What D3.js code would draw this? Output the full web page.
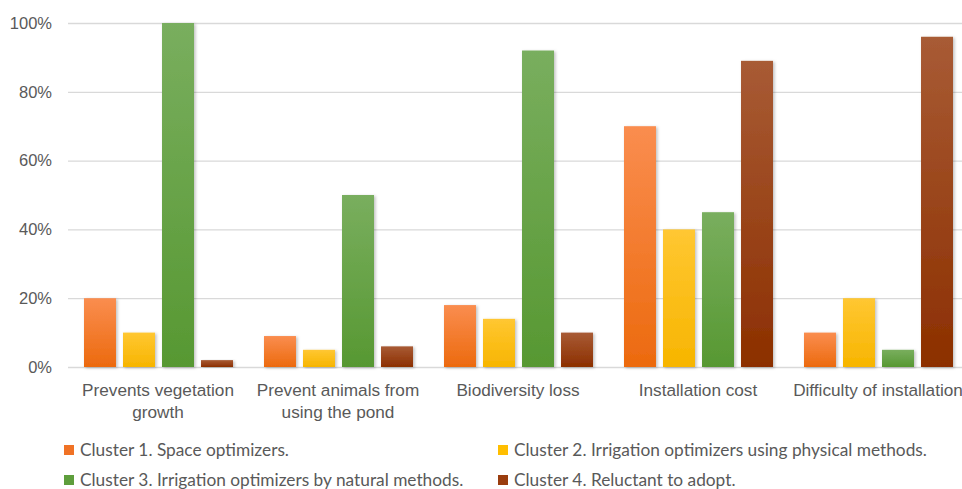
<!DOCTYPE html>
<html>
<head>
<meta charset="utf-8">
<script src="https://cdn.jsdelivr.net/npm/d3@7"></script>
<style>
  html, body { margin: 0; padding: 0; background: #fff; }
  svg { display: block; font-family: Lato, "Open Sans", sans-serif; }
</style>
</head>
<body>
<svg id="chart" width="962" height="489"></svg>
<script>
// Share of respondents (%) per reason, by cluster
const categories = [
  ["Prevents vegetation", "growth"],
  ["Prevent animals from", "using the pond"],
  ["Biodiversity loss"],
  ["Installation cost"],
  ["Difficulty of installation"]
];
const seriesNames = [
  "Cluster 1. Space optimizers.",
  "Cluster 2. Irrigation optimizers using physical methods.",
  "Cluster 3. Irrigation optimizers by natural methods.",
  "Cluster 4. Reluctant to adopt."
];
const cluster1 = [20, 9, 18, 70, 10];
const cluster2 = [10, 5, 14, 40, 20];
const cluster3 = [100, 50, 92, 45, 5];
const cluster4 = [2, 6, 10, 89, 96];
const yTicks = [0, 20, 40, 60, 80, 100];

const seriesValues = [cluster1, cluster2, cluster3, cluster4];
const colors = [
  { top: "#FA8D4F", bottom: "#EC6A0E", swatch: "#F07225" },
  { top: "#FFC732", bottom: "#F7B500", swatch: "#FFBE00" },
  { top: "#79AE5E", bottom: "#579832", swatch: "#5E9E3C" },
  { top: "#A85B35", bottom: "#8C2F00", swatch: "#9A3D0E" }
];

const svg = d3.select("#chart");
const margin = { left: 68, top: 23, bottom: 367 };
const plotRight = 968;

const x0 = d3.scaleBand()
  .domain(d3.range(categories.length))
  .range([margin.left, plotRight])
  .paddingInner(0)
  .paddingOuter(0);
const x1 = d3.scaleBand()
  .domain(d3.range(seriesValues.length))
  .range([16, x0.bandwidth() - 15])
  .paddingInner(0.18)
  .paddingOuter(0);
const y = d3.scaleLinear().domain([0, 100]).range([margin.bottom, margin.top]);

const defs = svg.append("defs");
colors.forEach((c, i) => {
  const g = defs.append("linearGradient")
    .attr("id", "grad" + i)
    .attr("x1", 0).attr("y1", 0).attr("x2", 0).attr("y2", 1);
  g.append("stop").attr("offset", "0%").attr("stop-color", c.top);
  g.append("stop").attr("offset", "100%").attr("stop-color", c.bottom);
});
const shadow = defs.append("filter").attr("id", "shadow")
  .attr("x", "-20%").attr("y", "-5%").attr("width", "150%").attr("height", "115%");
shadow.append("feDropShadow")
  .attr("dx", 1.5).attr("dy", 1).attr("stdDeviation", 1.5)
  .attr("flood-color", "#000").attr("flood-opacity", 0.25);

// gridlines
const yAxis = d3.axisLeft(y)
  .tickValues(yTicks)
  .tickSize(-(plotRight - margin.left))
  .tickPadding(16)
  .tickFormat(d => d + "%");
const gy = svg.append("g")
  .attr("transform", `translate(${margin.left},0)`)
  .call(yAxis);
gy.select(".domain").remove();
gy.selectAll(".tick line").attr("stroke", "#D9D9D9").attr("stroke-width", 1.3);
gy.selectAll(".tick text")
  .attr("fill", "#595959")
  .style("font-size", "16.5px");

// bars
const groups = svg.append("g").selectAll("g")
  .data(categories.map((c, i) => i))
  .join("g")
  .attr("transform", i => `translate(${x0(i)},0)`);
groups.selectAll("rect")
  .data(ci => seriesValues.map((s, si) => ({ si, v: s[ci] })))
  .join("rect")
  .attr("x", d => x1(d.si))
  .attr("width", x1.bandwidth())
  .attr("y", d => y(d.v))
  .attr("height", d => y(0) - y(d.v))
  .attr("fill", d => `url(#grad${d.si})`)
  .attr("filter", "url(#shadow)");

// category labels
const xAxis = d3.axisBottom(x0).tickSize(0).tickFormat(() => "");
const gx = svg.append("g")
  .attr("transform", `translate(0,${margin.bottom})`)
  .call(xAxis);
gx.select(".domain").remove();
gx.selectAll(".tick").each(function (i) {
  const t = d3.select(this).append("text")
    .attr("fill", "#595959")
    .attr("text-anchor", "middle")
    .style("font-size", "17.2px");
  categories[i].forEach((line, li) => {
    t.append("tspan").attr("x", 0).attr("y", 29 + li * 22).text(line);
  });
});

// legend
const legendPos = [
  { x: 64, y: 450 }, { x: 498, y: 450 },
  { x: 64, y: 480 }, { x: 498, y: 480 }
];
const legend = svg.append("g").selectAll("g")
  .data(seriesNames)
  .join("g")
  .attr("transform", (d, i) => `translate(${legendPos[i].x},${legendPos[i].y})`);
legend.append("rect")
  .attr("x", 0).attr("y", -5).attr("width", 10).attr("height", 10)
  .attr("fill", (d, i) => colors[i].swatch);
legend.append("text")
  .attr("x", 16).attr("y", 6)
  .attr("fill", "#595959")
  .style("font-size", "17.3px")
  .text(d => d);
</script>
</body>
</html>
